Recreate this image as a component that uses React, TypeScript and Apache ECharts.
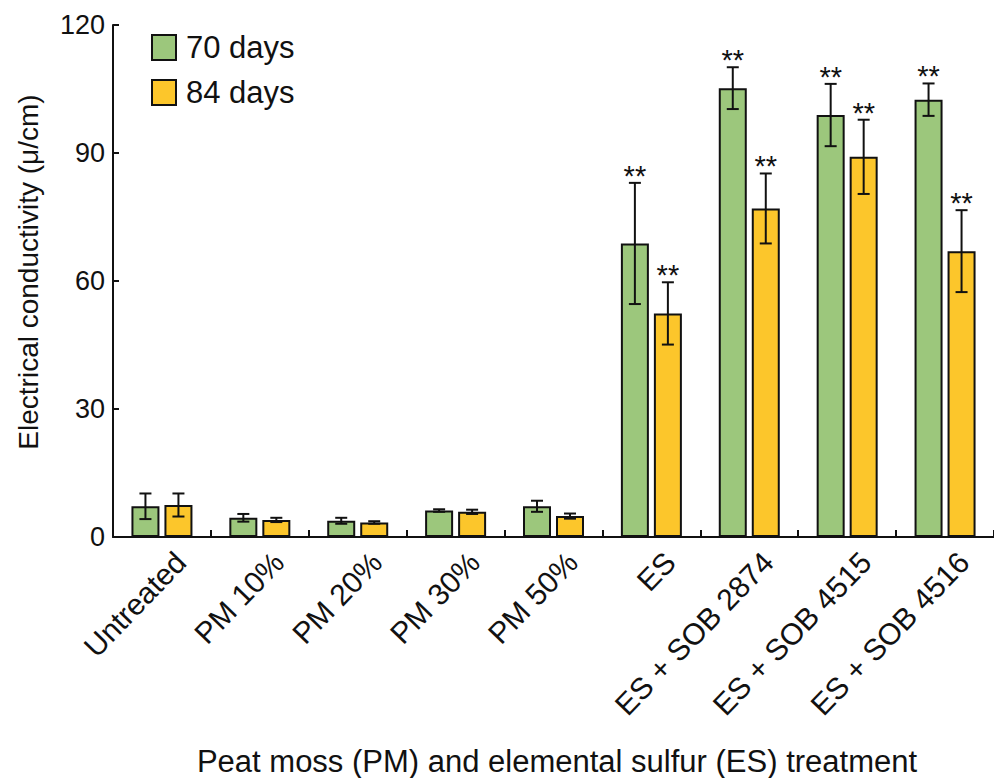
import React, { useEffect, useRef } from "react";
import * as echarts from "echarts";

const categories = [
  "Untreated",
  "PM 10%",
  "PM 20%",
  "PM 30%",
  "PM 50%",
  "ES",
  "ES + SOB 2874",
  "ES + SOB 4515",
  "ES + SOB 4516",
];
const mean70 = [7.2, 4.5, 3.8, 6.2, 7.2, 68.8, 105.2, 98.9, 102.5];
const sd70 = [3.0, 0.9, 0.7, 0.3, 1.3, 14.2, 4.9, 7.3, 3.8];
const sig70 = ["", "", "", "", "", "**", "**", "**", "**"];
const mean84 = [7.5, 4.0, 3.4, 5.9, 4.9, 52.4, 77.0, 89.1, 67.0];
const sd84 = [2.7, 0.5, 0.3, 0.5, 0.6, 7.3, 8.2, 8.7, 9.6];
const sig84 = ["", "", "", "", "", "**", "**", "**", "**"];
const yTicks = [0, 30, 60, 90, 120];

const FONT = "'Liberation Sans', Arial, Helvetica, sans-serif";
const GREEN = "#9cc77c";
const YELLOW = "#fcc62b";
const BAR_W = 28;
const BAR_GAP = 5;

function errorSeries(means: number[], sds: number[], sigs: string[], sign: number) {
  return {
    type: "custom",
    silent: true,
    z: 5,
    data: means.map((m, i) => [i, m, sds[i]]),
    renderItem: (params: any, api: any) => {
      const idx = api.value(0);
      const m = api.value(1);
      const s = api.value(2);
      const star = sigs[idx];
      const base = api.coord([idx, m]);
      const x = base[0] + sign * (BAR_W / 2 + BAR_GAP / 2);
      const yTop = api.coord([idx, m + s])[1];
      const yBot = api.coord([idx, m - s])[1];
      const cap = 6;
      const ls = { stroke: "#111", lineWidth: 2 };
      const children: any[] = [
        { type: "line", shape: { x1: x, y1: yTop, x2: x, y2: yBot }, style: ls },
        { type: "line", shape: { x1: x - cap, y1: yTop, x2: x + cap, y2: yTop }, style: ls },
        { type: "line", shape: { x1: x - cap, y1: yBot, x2: x + cap, y2: yBot }, style: ls },
      ];
      if (star) {
        children.push({
          type: "text",
          x: x,
          y: yTop - 7,
          style: {
            text: star,
            fontSize: 29,
            fontFamily: FONT,
            fill: "#111",
            align: "center",
            verticalAlign: "middle",
          },
        });
      }
      return { type: "group", children };
    },
  };
}

export default function App() {
  const ref = useRef<HTMLDivElement>(null);
  useEffect(() => {
    if (!ref.current) return;
    const chart = echarts.init(ref.current, undefined, { renderer: "svg" });
    const option: any = {
      animation: false,
      backgroundColor: "#ffffff",
      textStyle: { fontFamily: FONT },
      grid: { left: 113, top: 25, bottom: 241, right: -7, containLabel: false },
      legend: {
        orient: "vertical",
        left: 146,
        top: 27,
        itemWidth: 24,
        itemHeight: 25,
        itemGap: 14,
        icon: "rect",
        textStyle: { fontSize: 31, color: "#111", fontFamily: FONT, padding: [0, 0, 0, 5] },
        data: ["70 days", "84 days"],
      },
      xAxis: {
        type: "category",
        data: categories,
        axisLine: { lineStyle: { color: "#111", width: 2 } },
        axisTick: { show: true, inside: true, length: 7, interval: 0, lineStyle: { color: "#111", width: 2 } },
        axisLabel: {
          interval: 0,
          rotate: 46,
          fontSize: 30,
          lineHeight: 52,
          color: "#111",
          fontFamily: FONT,
          margin: 2,
          formatter: (v: string) => "\n" + v,
        },
        splitLine: { show: false },
      },
      yAxis: {
        type: "value",
        min: 0,
        max: 120,
        interval: 30,
        axisLine: { show: true, lineStyle: { color: "#111", width: 2 } },
        axisTick: { show: true, inside: true, length: 6, lineStyle: { color: "#111", width: 2 } },
        axisLabel: {
          fontSize: 27,
          color: "#111",
          fontFamily: FONT,
          margin: 8,
          formatter: (v: number) => (yTicks.indexOf(v) >= 0 ? String(v) : ""),
        },
        splitLine: { show: false },
      },
      series: [
        {
          name: "70 days",
          type: "bar",
          data: mean70,
          barWidth: BAR_W,
          barGap: `${(BAR_GAP / BAR_W) * 100}%`,
          itemStyle: { color: GREEN, borderColor: "#111", borderWidth: 2 },
        },
        {
          name: "84 days",
          type: "bar",
          data: mean84,
          barWidth: BAR_W,
          barGap: `${(BAR_GAP / BAR_W) * 100}%`,
          itemStyle: { color: YELLOW, borderColor: "#111", borderWidth: 2 },
        },
        errorSeries(mean70, sd70, sig70, -1),
        errorSeries(mean84, sd84, sig84, 1),
      ],
      graphic: [
        {
          type: "text",
          x: 28,
          y: 272,
          rotation: Math.PI / 2,
          style: {
            text: "Electrical conductivity (μ/cm)",
            fontSize: 28,
            fontFamily: FONT,
            fill: "#111",
            align: "center",
            verticalAlign: "middle",
          },
        },
        {
          type: "text",
          x: 557,
          y: 761,
          style: {
            text: "Peat moss (PM) and elemental sulfur (ES) treatment",
            fontSize: 31,
            fontFamily: FONT,
            fill: "#111",
            align: "center",
            verticalAlign: "middle",
          },
        },
      ],
    };
    chart.setOption(option);
    return () => chart.dispose();
  }, []);
  return (
    <div
      ref={ref}
      style={{ position: "absolute", left: 0, top: 0, width: 994, height: 778, background: "#fff" }}
    />
  );
}
